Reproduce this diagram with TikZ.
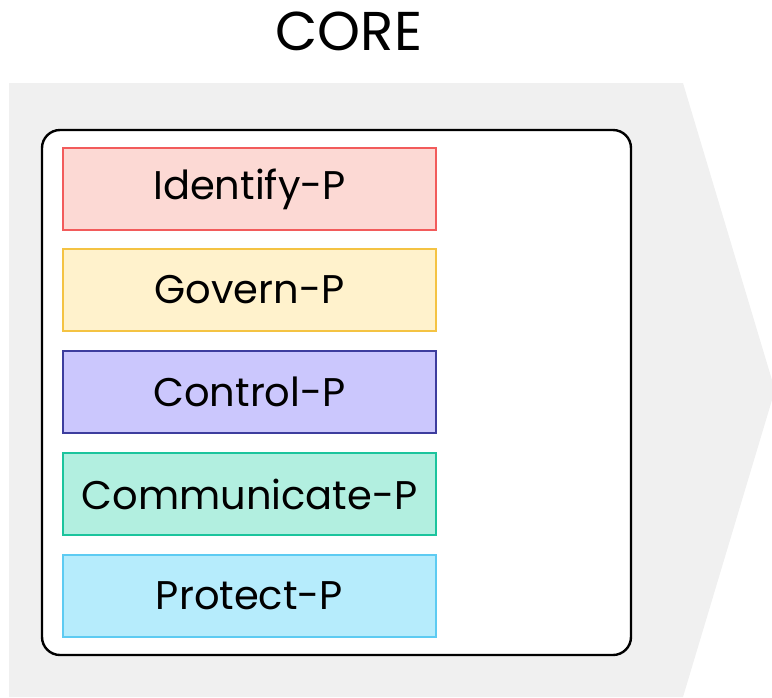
\documentclass[tikz,border=0pt]{standalone}
\usepackage{fontspec}
\setmainfont{Poppins}

\definecolor{chevgray}{HTML}{F0F0F0}
\definecolor{idfill}{HTML}{FCD9D4}
\definecolor{idline}{HTML}{F25B5B}
\definecolor{gvfill}{HTML}{FFF2CC}
\definecolor{gvline}{HTML}{F4C343}
\definecolor{ctfill}{HTML}{CBC7FD}
\definecolor{ctline}{HTML}{3D3D9E}
\definecolor{cmfill}{HTML}{B2EFE0}
\definecolor{cmline}{HTML}{1BC49D}
\definecolor{prfill}{HTML}{B6ECFC}
\definecolor{prline}{HTML}{5DCBF2}

\tikzset{
  catbox/.style={draw, line width=1.5pt, minimum width=279.75pt,
    minimum height=61.5pt, inner sep=0pt, font=\fontsize{30}{36}\selectfont}
}

\begin{document}
\begin{tikzpicture}[x=0.75pt,y=-0.75pt]
\useasboundingbox (0,0) rectangle (772,697);

\clip (0,0) rectangle (772,697);
\fill[chevgray] (9,83) -- (683,83) -- (775,390) -- (683,697) -- (9,697) -- cycle;
\filldraw[fill=white, draw=black, line width=1.8pt, rounded corners=13.5pt]
  (42,130) rectangle (631,655);

\node[font=\fontsize{41}{48}\selectfont, anchor=base, inner sep=0pt] (core) at (349,50) {CORE};

\node[catbox, fill=idfill, draw=idline] (identify) at (249.5,189) {Identify-P};
\node[catbox, fill=gvfill, draw=gvline] (govern) at (249.5,290) {Govern-P};
\node[catbox, fill=ctfill, draw=ctline] (control) at (249.5,392) {Control-P};
\node[catbox, fill=cmfill, draw=cmline] (communicate) at (249.5,494) {Communicate-P};
\node[catbox, fill=prfill, draw=prline] (protect) at (249.5,596) {Protect-P};

\end{tikzpicture}
\end{document}
